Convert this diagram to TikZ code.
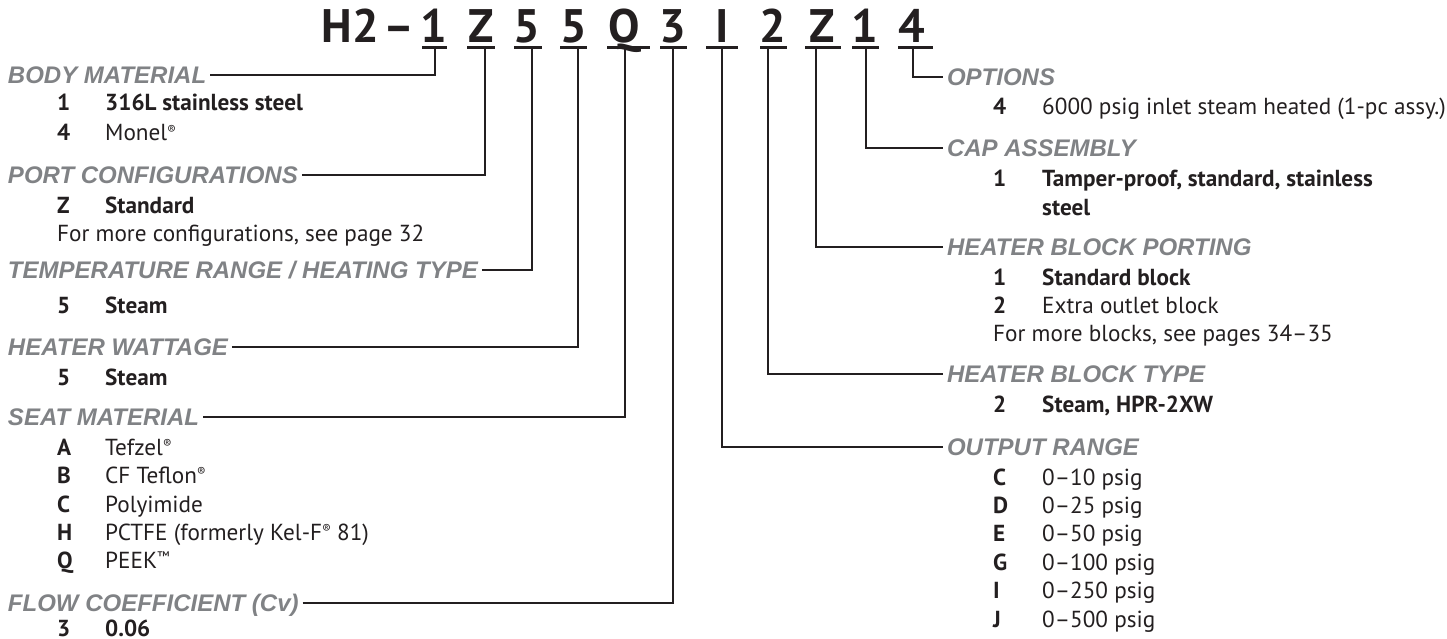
\documentclass[tikz,border=0pt]{standalone}
\usepackage{fontspec}
\setmainfont{PT Sans}
\newfontfamily\hdrfont{Liberation Sans Bold Italic}
\usetikzlibrary{calc}
\definecolor{hgrey}{HTML}{808285}
\definecolor{ink}{HTML}{231F20}
\newcommand{\regm}{\raisebox{0.6ex}{\scalebox{0.55}{®}}}
\newcommand{\tmm}{\raisebox{0.6ex}{\scalebox{0.6}{™}}}
\begin{document}
\begin{tikzpicture}[x=1pt,y=-1pt,
  code/.style={font=\fontsize{47}{47}\selectfont\bfseries, text=ink, anchor=base, inner sep=0pt},
  hdr/.style={font=\hdrfont\fontsize{24}{24}\selectfont, text=hgrey, anchor=west, inner sep=0pt, outer xsep=4pt, text height=17pt, text depth=0pt},
  key/.style={font=\fontsize{23.2}{24}\selectfont\bfseries, text=ink, anchor=base west, inner sep=0pt},
  val/.style={font=\fontsize{23.2}{24}\selectfont, text=ink, anchor=base west, inner sep=0pt},
  valb/.style={key},
  conn/.style={line width=2pt, draw=ink},
  uline/.style={line width=3pt, draw=ink}]
\useasboundingbox (0,0) rectangle (1447,639);

% ---- code line ----
\node[code, anchor=base east] (cH) at (379,43) {H2};
\node[code] (cdash) at (399,43) {–};
\node[code] (c1) at (434,43) {1};
\node[code] (c2) at (481,43) {Z};
\node[code] (c3) at (527,43) {5};
\node[code] (c4) at (574,43) {5};
\node[code] (c5) at (624,43) {Q};
\node[code] (c6) at (673,43) {3};
\node[code] (c7) at (722,43) {I};
\node[code] (c8) at (773,43) {2};
\node[code] (c9) at (822,43) {Z};
\node[code] (c10) at (865,43) {1};
\node[code] (c11) at (912,43) {4};

\draw[uline] (422,48) -- (447,48);
\draw[uline] (467,48) -- (495,48);
\draw[uline] (514,48) -- (542,48);
\draw[uline] (560,48) -- (587,48);
\draw[uline] (607,48) -- (650,48);
\draw[uline] (660,48) -- (687,48);
\draw[uline] (706,48) -- (738,48);
\draw[uline] (760,48) -- (787,48);
\draw[uline] (805,48) -- (841,48);
\draw[uline] (852,48) -- (879,48);
\draw[uline] (898,48) -- (933,48);

\coordinate (v1) at (435,48);
\coordinate (v2) at (485,48);
\coordinate (v3) at (532,48);
\coordinate (v4) at (578,48);
\coordinate (v5) at (625,48);
\coordinate (v6) at (673,48);
\coordinate (v7) at (722,48);
\coordinate (v8) at (768,48);
\coordinate (v9) at (816,48);
\coordinate (v10) at (866,48);
\coordinate (v11) at (913,48);

% ---- left column ----
\node[hdr] (hBody) at (4,75) {BODY MATERIAL};
\node[key] (kB1) at (57,111) {1};
\node[valb] (tB1) at (105,111) {316L stainless steel};
\node[key] (kB4) at (57,141) {4};
\node[val] (tB4) at (105,141) {Monel\regm};

\node[hdr] (hPort) at (4,175) {PORT CONFIGURATIONS};
\node[key] (kPZ) at (57,213) {Z};
\node[valb] (tPZ) at (105,213) {Standard};
\node[val] (tPmore) at (57,241) {For more configurations, see page 32};

\node[hdr] (hTemp) at (4,270) {TEMPERATURE RANGE / HEATING TYPE};
\node[key] (kT5) at (57,313) {5};
\node[valb] (tT5) at (105,313) {Steam};

\node[hdr] (hWatt) at (4,347) {HEATER WATTAGE};
\node[key] (kW5) at (57,385) {5};
\node[valb] (tW5) at (105,385) {Steam};

\node[hdr] (hSeat) at (4,417) {SEAT MATERIAL};
\node[key] (kSA) at (57,455) {A};
\node[val] (tSA) at (105,455) {Tefzel\regm};
\node[key] (kSB) at (57,483.5) {B};
\node[val] (tSB) at (105,483.5) {CF Teflon\regm};
\node[key] (kSC) at (57,512) {C};
\node[val] (tSC) at (105,512) {Polyimide};
\node[key] (kSH) at (57,540) {H};
\node[val] (tSH) at (105,540) {PCTFE (formerly Kel-F\regm{} 81)};
\node[key] (kSQ) at (57,568.5) {Q};
\node[val] (tSQ) at (105,568.5) {PEEK\tmm};

\node[hdr] (hFlow) at (4,603) {FLOW COEFFICIENT (Cv)};
\node[key] (kF3) at (57,636) {3};
\node[valb] (tF3) at (105,636) {0.06};

% ---- right column ----
\node[hdr] (hOpt) at (943,77) {OPTIONS};
\node[key] (kO4) at (993,115) {4};
\node[val] (tO4) at (1042,115) {6000 psig inlet steam heated (1-pc assy.)};

\node[hdr] (hCap) at (943,148) {CAP ASSEMBLY};
\node[key] (kC1) at (993,186) {1};
\node[valb] (tC1) at (1042,186) {Tamper-proof, standard, stainless};
\node[valb] (tC1b) at (1042,215) {steel};

\node[hdr] (hPorting) at (943,247) {HEATER BLOCK PORTING};
\node[key] (kP1) at (993,285) {1};
\node[valb] (tP1) at (1042,285) {Standard block};
\node[key] (kP2) at (993,313) {2};
\node[val] (tP2) at (1042,313) {Extra outlet block};
\node[val] (tPmore2) at (993,341) {For more blocks, see pages 34–35};

\node[hdr] (hType) at (943,374) {HEATER BLOCK TYPE};
\node[key] (kY2) at (993,412) {2};
\node[valb] (tY2) at (1042,412) {Steam, HPR-2XW};

\node[hdr] (hOut) at (943,447) {OUTPUT RANGE};
\node[key] (kRC) at (993,485) {C};
\node[val] (tRC) at (1042,485) {0–10 psig};
\node[key] (kRD) at (993,513) {D};
\node[val] (tRD) at (1042,513) {0–25 psig};
\node[key] (kRE) at (993,541) {E};
\node[val] (tRE) at (1042,541) {0–50 psig};
\node[key] (kRG) at (993,570) {G};
\node[val] (tRG) at (1042,570) {0–100 psig};
\node[key] (kRI) at (993,598.5) {I};
\node[val] (tRI) at (1042,598.5) {0–250 psig};
\node[key] (kRJ) at (993,627) {J};
\node[val] (tRJ) at (1042,627) {0–500 psig};

% ---- connectors ----
\draw[conn] (hBody.east) -| (v1);
\draw[conn] (hPort.east) -| (v2);
\draw[conn] (hTemp.east) -| (v3);
\draw[conn] (hWatt.east) -| (v4);
\draw[conn] (hSeat.east) -| (v5);
\draw[conn] (hFlow.east) -| (v6);
\draw[conn] (v7) |- (hOut.west);
\draw[conn] (v8) |- (hType.west);
\draw[conn] (v9) |- (hPorting.west);
\draw[conn] (v10) |- (hCap.west);
\draw[conn] (v11) |- (hOpt.west);
\end{tikzpicture}
\end{document}
